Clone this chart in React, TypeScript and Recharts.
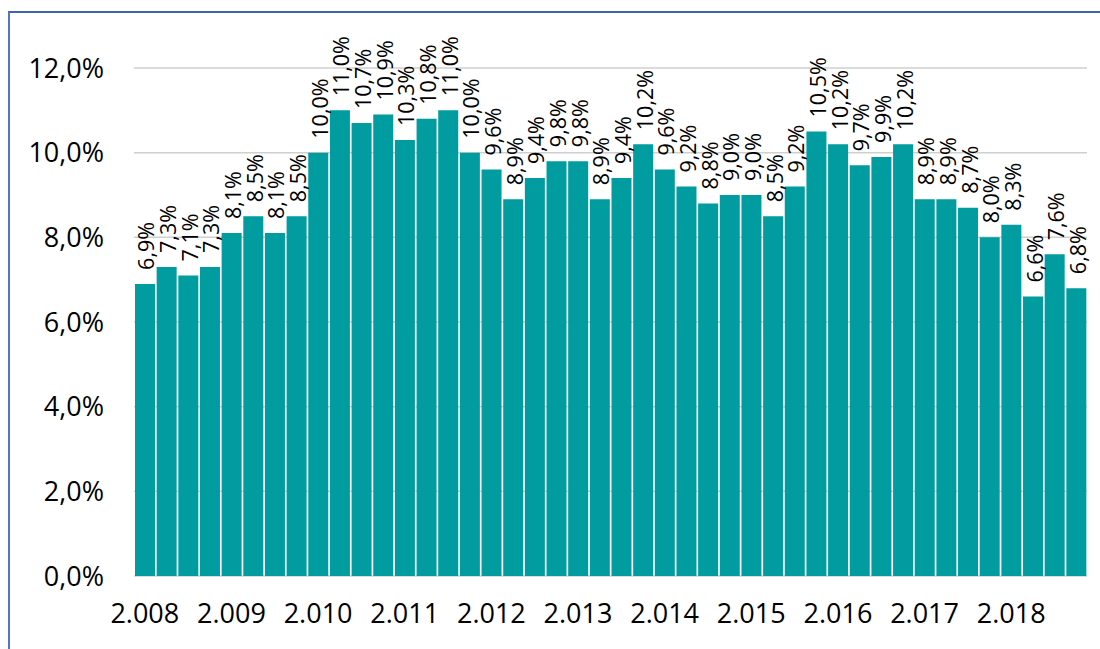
import React from 'react';
import { ComposedChart, Bar, XAxis, YAxis, CartesianGrid, LabelList } from 'recharts';

const years = [2008, 2009, 2010, 2011, 2012, 2013, 2014, 2015, 2016, 2017, 2018];
const quarters = ['T1', 'T2', 'T3', 'T4'];
const values = [
  6.9, 7.3, 7.1, 7.3,
  8.1, 8.5, 8.1, 8.5,
  10.0, 11.0, 10.7, 10.9,
  10.3, 10.8, 11.0, 10.0,
  9.6, 8.9, 9.4, 9.8,
  9.8, 8.9, 9.4, 10.2,
  9.6, 9.2, 8.8, 9.0,
  9.0, 8.5, 9.2, 10.5,
  10.2, 9.7, 9.9, 10.2,
  8.9, 8.9, 8.7, 8.0,
  8.3, 6.6, 7.6, 6.8,
];
const yTicks = [0, 2, 4, 6, 8, 10, 12];

const data = values.map((v, i) => ({
  period: `${years[Math.floor(i / 4)]}-${quarters[i % 4]}`,
  value: v,
}));
const xTicks = years.map((y) => `${y}-T1`);

const FONT = '"Open Sans", "Noto Sans", sans-serif';
const fmtYear = (s: string) => {
  const y = String(s).slice(0, 4);
  return y[0] + '.' + y.slice(1);
};
const fmtPct = (v: number) => v.toFixed(1).replace('.', ',') + '%';

const renderLabel = (props: any) => {
  const { x, y, width, value } = props;
  const cx = Number(x) + Number(width) / 2 + 1;
  const ty = Number(y) - 14;
  return (
    <text
      x={cx}
      y={ty}
      transform={`rotate(-90 ${cx} ${ty})`}
      textAnchor="start"
      dominantBaseline="central"
      fontFamily={FONT}
      fontSize={21.5}
      fill="#000"
    >
      {fmtPct(Number(value))}
    </text>
  );
};

export default function App() {
  return (
    <div style={{ position: 'absolute', left: 0, top: 0, width: 1100, height: 649, background: '#fff', overflow: 'hidden' }}>
      <div
        style={{
          position: 'absolute',
          left: 8,
          top: 11,
          width: 1200,
          height: 800,
          borderLeft: '2px solid #5572C6',
          borderTop: '2px solid #3F62B8',
        }}
      />
      <div style={{ position: 'absolute', left: 0, top: 0 }}>
        <ComposedChart
          width={1100}
          height={649}
          data={data}
          margin={{ top: 68, right: 13, bottom: 0, left: 0 }}
          barCategoryGap={1}
        >
          <CartesianGrid vertical={false} stroke="#CFCFCF" strokeWidth={1.5} />
          <XAxis
            dataKey="period"
            ticks={xTicks}
            interval={0}
            tickFormatter={fmtYear}
            axisLine={false}
            tickLine={false}
            tickSize={0}
            tickMargin={28}
            height={73}
            tick={{ fontFamily: FONT, fontSize: 27, fill: '#000' }}
          />
          <YAxis
            domain={[0, 12]}
            ticks={yTicks}
            tickFormatter={(v: number) => fmtPct(v)}
            axisLine={false}
            tickLine={false}
            tickSize={0}
            tickMargin={30}
            width={134}
            tick={{ fontFamily: FONT, fontSize: 27, fill: '#000' }}
          />
          <Bar dataKey="value" fill="#009C9F" isAnimationActive={false}>
            <LabelList dataKey="value" content={renderLabel} />
          </Bar>
        </ComposedChart>
      </div>
    </div>
  );
}
